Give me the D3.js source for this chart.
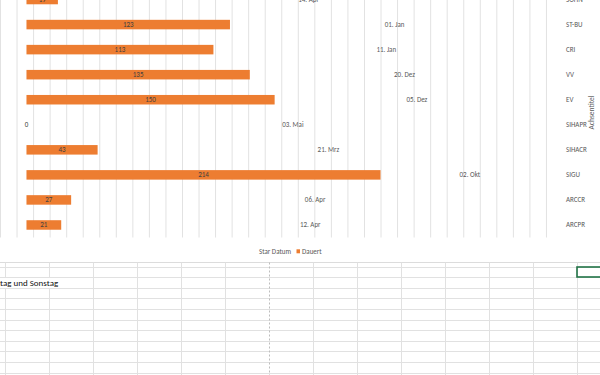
<!DOCTYPE html>
<html><head><meta charset="utf-8">
<script src="https://cdn.jsdelivr.net/npm/d3@7"></script>
<style>body{margin:0;background:#fff}svg{display:block}text{font-family:"Liberation Sans Narrow","Arial Narrow",Carlito,Calibri,"Liberation Sans",Arial,sans-serif}</style>
</head><body><svg id="c" width="600" height="375"></svg>
<script>
const categories = ["SOHN","ST-BU","CRI","VV","EV","SIHAPR","SIHACR","SIGU","ARCCR","ARCPR"];
const duration = [19,123,113,135,150,0,43,214,27,21];
const startLabels = ["14. Apr","01. Jan","11. Jan","20. Dez","05. Dez","03. Mai","21. Mrz","02. Okt","06. Apr","12. Apr"];
const seriesNames = ["Star Datum","Dauert"];
const axisTitle = "Achsentitel";
const sheetText = "tag und Sonstag";

const svg = d3.select("#c");
const xDomain = [-16, 322];
const x = d3.scaleLinear().domain(xDomain).range([0, 559.2]);
const y = d3.scaleBand().domain(categories).range([-13, 237.5]).paddingInner(0.62).paddingOuter(0.31);
const yc = d => y(d) + y.bandwidth()/2;

// gridlines
const grid = svg.append("g");
grid.selectAll("line").data(d3.range(xDomain[0], xDomain[1], 10)).join("line")
  .attr("x1", d => x(d)+0.5).attr("x2", d => x(d)+0.5)
  .attr("y1", 0).attr("y2", 237.5)
  .attr("stroke", "#e2e2e2").attr("stroke-width", 1);

// bars (Dauer)
svg.append("g").selectAll("rect").data(categories).join("rect")
  .attr("x", x(0)).attr("y", d => y(d))
  .attr("width", (d,i) => x(duration[i]) - x(0))
  .attr("height", y.bandwidth())
  .attr("fill", "#ED7D31");

// value labels
svg.append("g").selectAll("text").data(categories).join("text")
  .attr("x", (d,i) => (x(0) + x(duration[i]))/2)
  .attr("y", d => yc(d)).attr("dy", "0.35em")
  .attr("text-anchor", "middle").attr("font-size", 7).attr("fill", "#404040")
  .text((d,i) => duration[i]);

// start date labels (invisible stacked series, clipped at axis max)
svg.append("g").selectAll("text").data(categories).join("text")
  .attr("x", (d,i) => (x(duration[i]) + x(xDomain[1]))/2)
  .attr("y", d => yc(d)).attr("dy", "0.35em")
  .attr("text-anchor", "middle").attr("font-size", 7).attr("fill", "#595959")
  .text((d,i) => startLabels[i]);

// category axis on right
svg.append("g").selectAll("text").data(categories).join("text")
  .attr("x", 566).attr("y", d => yc(d)).attr("dy", "0.35em")
  .attr("font-size", 7).attr("fill", "#595959").text(d => d);

svg.append("text").attr("transform", "translate(594,112.5) rotate(-90)")
  .attr("text-anchor", "middle").attr("font-size", 7.5).attr("fill", "#595959").text(axisTitle);

// legend
const lg = svg.append("g");
lg.append("text").attr("x", 259).attr("y", 251.5).attr("dy", "0.35em").attr("font-size", 7).attr("fill", "#595959").text(seriesNames[0]);
lg.append("rect").attr("x", 296.5).attr("y", 249.3).attr("width", 3.5).attr("height", 4).attr("fill", "#ED7D31");
lg.append("text").attr("x", 302).attr("y", 251.5).attr("dy", "0.35em").attr("font-size", 7).attr("fill", "#595959").text(seriesNames[1]);

// spreadsheet below
const sheet = svg.append("g");
sheet.append("line").attr("x1",0).attr("x2",600).attr("y1",262.5).attr("y2",262.5).attr("stroke","#dcdcdc");
const rows = d3.range(0, 11).map(k => 266.5 + k*10.6);
sheet.selectAll(".r").data(rows).join("line").attr("class","r")
  .attr("x1",0).attr("x2",600).attr("y1",d=>Math.round(d)+0.5).attr("y2",d=>Math.round(d)+0.5)
  .attr("stroke","#e1e1e1");
const cols = d3.range(0, 14).map(k => 5 + k*44);
sheet.selectAll(".c").data(cols).join("line").attr("class","c")
  .attr("x1",d=>d+0.5).attr("x2",d=>d+0.5).attr("y1",262.5).attr("y2",375)
  .attr("stroke",(d,i)=> i===6 ? "#bdbdbd" : "#e1e1e1")
  .attr("stroke-dasharray",(d,i)=> i===6 ? "2,2" : null);
sheet.append("rect").attr("x",0).attr("y",278).attr("width",92).attr("height",10).attr("fill","#fff");
sheet.append("text").attr("x",0).attr("y",285.5).attr("font-size",9).attr("fill","#111").text(sheetText);
sheet.append("rect").attr("x",577).attr("y",267).attr("width",30).attr("height",10)
  .attr("fill","none").attr("stroke","#217346").attr("stroke-width",1.6);
</script></body></html>
